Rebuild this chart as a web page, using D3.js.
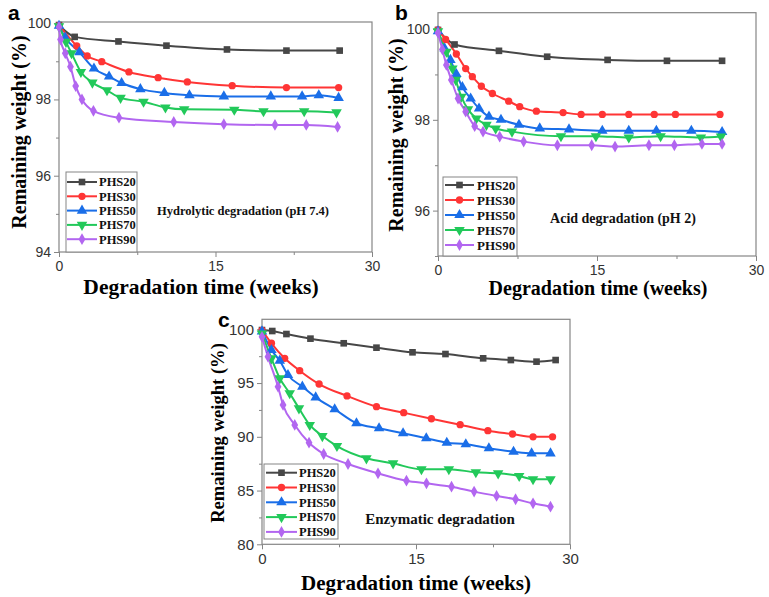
<!DOCTYPE html>
<html><head><meta charset="utf-8">
<script src="https://cdn.jsdelivr.net/npm/d3@7/dist/d3.min.js"></script>
<style>body{margin:0;background:#fff}svg{display:block}</style>
</head><body>
<svg id="chart" width="769" height="597"></svg>
<script>
// ---------- DATA ----------
const seriesNames = ["PHS20", "PHS30", "PHS50", "PHS70", "PHS90"];
const seriesColors = ["#474747", "#ff3535", "#1a6ee8", "#22c95a", "#b266f0"];
const xTicks = [0, 15, 30];
const xMinorTicks = [7.5, 22.5];

// Panel a: Hydrolytic degradation (pH 7.4)
const hydro_PHS20 = [[0,99.95],[1.5,99.64],[5.7,99.52],[10.3,99.41],[16.1,99.31],[21.8,99.28],[26.9,99.28]];
const hydro_PHS30 = [[0,99.94],[1.7,99.40],[2.7,99.14],[4.1,98.99],[6.7,98.72],[9.5,98.57],[12.3,98.46],[16.6,98.36],[21.8,98.31],[26.8,98.31]];
const hydro_PHS50 = [[0,99.93],[0.6,99.62],[1.95,99.24],[3.35,98.81],[4.8,98.60],[6.0,98.43],[7.8,98.27],[10.1,98.17],[12.5,98.11],[15.8,98.08],[20.3,98.08],[23.3,98.08],[24.9,98.11],[26.8,98.04]];
const hydro_PHS70 = [[0,99.92],[0.67,99.51],[1.2,99.21],[2.1,98.72],[3.2,98.44],[4.6,98.24],[5.9,98.04],[8.1,97.94],[10.2,97.79],[12.0,97.74],[16.8,97.73],[19.6,97.69],[23.5,97.69],[26.6,97.66]];
const hydro_PHS90 = [[0,99.9],[0.15,99.57],[0.6,99.21],[1.1,98.86],[1.6,98.35],[2.2,98.0],[3.3,97.70],[5.75,97.52],[11.0,97.41],[15.8,97.35],[20.7,97.33],[23.7,97.33],[26.7,97.28]];
const hydroYTicks = [94, 96, 98, 100];
const hydroYMinor = [95, 97, 99];

// Panel b: Acid degradation (pH 2)
const acid_PHS20 = [[0,99.98],[1.56,99.66],[5.75,99.52],[10.3,99.39],[16.0,99.32],[21.6,99.30],[26.8,99.30]];
const acid_PHS30 = [[0,99.98],[0.72,99.77],[1.73,99.45],[2.61,99.13],[3.24,98.95],[4.09,98.74],[5.13,98.58],[6.67,98.41],[7.71,98.29],[9.28,98.19],[11.8,98.16],[13.5,98.12],[15.5,98.12],[18.0,98.12],[20.4,98.12],[22.4,98.12],[26.6,98.12]];
const acid_PHS50 = [[0,99.95],[0.63,99.57],[1.17,99.32],[1.73,99.01],[2.3,98.72],[3.08,98.47],[3.87,98.25],[4.81,98.07],[5.94,98.0],[7.64,97.89],[9.6,97.81],[12.36,97.79],[15.5,97.76],[18.0,97.76],[20.6,97.76],[23.9,97.76],[26.8,97.73]];
const acid_PHS70 = [[0,99.95],[0.8,99.5],[1.36,99.13],[1.67,98.88],[2.2,98.51],[2.83,98.23],[3.62,98.03],[4.57,97.89],[5.44,97.81],[6.98,97.74],[11.6,97.64],[14.9,97.64],[18.0,97.61],[21.0,97.64],[24.8,97.61],[26.7,97.63]];
const acid_PHS90 = [[0,99.92],[0.41,99.55],[0.79,99.21],[1.26,98.88],[1.89,98.47],[2.61,98.18],[3.46,97.86],[4.25,97.74],[5.82,97.63],[8.08,97.52],[11.26,97.44],[14.5,97.44],[16.7,97.41],[19.9,97.44],[22.3,97.44],[24.9,97.47],[26.8,97.47]];
const acidYTicks = [96, 98, 100];
const acidYMinor = [95, 97, 99];

// Panel c: Enzymatic degradation
const enz_PHS20 = [[0,99.93],[1.0,99.84],[2.38,99.56],[4.72,99.13],[7.96,98.7],[11.15,98.29],[14.66,97.86],[17.87,97.7],[21.54,97.3],[24.24,97.14],[26.74,96.99],[28.6,97.14]];
const enz_PHS30 = [[0,99.9],[0.92,98.7],[2.21,97.3],[3.67,96.15],[5.56,94.91],[8.28,93.8],[11.15,92.8],[13.8,92.24],[16.5,91.68],[19.3,91.13],[22.0,90.57],[24.4,90.26],[26.4,90.0],[28.3,90.0]];
const enz_PHS50 = [[0,99.8],[0.92,98.07],[1.73,97.08],[2.53,95.75],[3.93,94.66],[5.23,93.67],[7.08,92.56],[9.2,91.26],[11.4,90.79],[13.74,90.33],[16.0,89.86],[18.0,89.45],[19.85,89.3],[22.1,88.93],[24.5,88.61],[26.26,88.46],[28.1,88.46]];
const enz_PHS70 = [[0,99.6],[0.92,97.3],[1.73,95.44],[2.7,94.05],[3.6,92.65],[4.65,91.1],[5.88,90.07],[7.3,89.14],[10.17,88.0],[12.77,87.53],[15.53,86.98],[18.2,86.98],[20.83,86.7],[23.0,86.6],[25.05,86.35],[26.4,86.05],[28.1,86.05]];
const enz_PHS90 = [[0,99.3],[0.58,97.45],[1.56,94.66],[2.05,92.96],[3.19,91.1],[4.58,89.45],[6.01,88.4],[8.38,87.47],[11.3,86.6],[14.07,85.92],[16.02,85.67],[18.46,85.36],[20.66,84.9],[22.85,84.5],[24.7,84.19],[26.4,83.81],[28.1,83.5]];
const enzYTicks = [80, 85, 90, 95, 100];
const enzYMinor = [82.5, 87.5, 92.5, 97.5];

const titleX = "Degradation time (weeks)";
const titleY = "Remaining weight (%)";

// ---------- DRAW ----------
const svg = d3.select("#chart");
const SERIF = "'Liberation Serif','Times New Roman',serif";
const SANS = "'Liberation Sans',Arial,sans-serif";
const symbols = [d3.symbolSquare, d3.symbolCircle, d3.symbolTriangle, d3.symbolTriangle, d3.symbolDiamond];
const symSizes = [44, 42, 48, 48, 40];
const symRot = [0, 0, 0, 180, 0];
const fmt = d3.format("d");

function drawPanel(p) {
  const g = svg.append("g");
  const x = d3.scaleLinear().domain([0, 30]).range(p.xr);
  const y = d3.scaleLinear().domain(p.yd).range(p.yr);

  // frame
  g.append("rect").attr("x", p.xr[0]).attr("y", p.yr[1])
    .attr("width", p.xr[1] - p.xr[0]).attr("height", p.yr[0] - p.yr[1])
    .attr("fill", "none").attr("stroke", "#858585").attr("stroke-width", 1.2);

  // axes
  const xAxis = d3.axisBottom(x).tickValues(xTicks).tickFormat(fmt).tickSize(5).tickPadding(4);
  const xa = g.append("g").attr("transform", `translate(0,${p.yr[0]})`).call(xAxis);
  const yAxis = d3.axisLeft(y).tickValues(p.yTicks).tickFormat(fmt).tickSize(5).tickPadding(3);
  const ya = g.append("g").attr("transform", `translate(${p.xr[0]},0)`).call(yAxis);
  [xa, ya].forEach(a => {
    a.select(".domain").remove();
    a.selectAll("line").attr("stroke", "#858585");
    a.selectAll("text").attr("font-family", SANS).attr("font-size", p.tickFs).attr("fill", "#333");
  });
  g.append("g").attr("transform", `translate(0,${p.yr[0]})`)
    .call(d3.axisBottom(x).tickValues(xMinorTicks).tickSize(3).tickFormat(""))
    .call(a => { a.select(".domain").remove(); a.selectAll("line").attr("stroke", "#858585"); });
  g.append("g").attr("transform", `translate(${p.xr[0]},0)`)
    .call(d3.axisLeft(y).tickValues(p.yMinor).tickSize(3).tickFormat(""))
    .call(a => { a.select(".domain").remove(); a.selectAll("line").attr("stroke", "#858585"); });

  // lines
  const line = d3.line().x(d => x(d[0])).y(d => y(d[1])).curve(d3.curveMonotoneX);
  p.series.forEach((s, i) => {
    g.append("path").datum(s).attr("d", line).attr("fill", "none")
      .attr("stroke", seriesColors[i]).attr("stroke-width", 2);
  });
  p.series.forEach((s, i) => {
    const sym = d3.symbol().type(symbols[i]).size(symSizes[i]);
    g.selectAll(null).data(s).enter().append("path")
      .attr("d", sym)
      .attr("transform", d => `translate(${x(d[0])},${y(d[1])}) rotate(${symRot[i]})`)
      .attr("fill", seriesColors[i]);
  });

  // legend
  const L = p.legend;
  g.append("rect").attr("x", L.x).attr("y", L.y).attr("width", L.w).attr("height", L.h)
    .attr("fill", "#fff").attr("stroke", "#858585").attr("stroke-width", 1);
  seriesNames.forEach((n, i) => {
    const yy = L.y0 + i * L.dy;
    g.append("line").attr("x1", L.lx0).attr("x2", L.lx1).attr("y1", yy).attr("y2", yy)
      .attr("stroke", seriesColors[i]).attr("stroke-width", 2);
    g.append("path").attr("d", d3.symbol().type(symbols[i]).size(symSizes[i]))
      .attr("transform", `translate(${(L.lx0 + L.lx1) / 2},${yy}) rotate(${symRot[i]})`)
      .attr("fill", seriesColors[i]);
    g.append("text").attr("x", L.tx).attr("y", yy + L.fs * 0.35).text(n)
      .attr("font-family", SERIF).attr("font-weight", "bold").attr("font-size", L.fs).attr("fill", "#111");
  });

  // annotation
  g.append("text").attr("x", p.ann.x).attr("y", p.ann.y).attr("text-anchor", "middle")
    .text(p.ann.text).attr("font-family", SERIF).attr("font-weight", "bold")
    .attr("font-size", p.ann.fs).attr("fill", "#111");

  // titles
  g.append("text").attr("x", p.xt.x).attr("y", p.xt.y).attr("text-anchor", "middle")
    .text(titleX).attr("font-family", SERIF).attr("font-weight", "bold")
    .attr("font-size", p.xt.fs).attr("fill", "#000");
  g.append("text").attr("transform", `translate(${p.yt.x},${p.yt.y}) rotate(-90)`)
    .attr("text-anchor", "middle").attr("dy", "0.35em")
    .text(titleY).attr("font-family", SERIF).attr("font-weight", "bold")
    .attr("font-size", p.yt.fs).attr("fill", "#000");

  // panel letter
  g.append("text").attr("x", p.letter.x).attr("y", p.letter.y).text(p.letter.t)
    .attr("font-family", SANS).attr("font-weight", "bold").attr("font-size", 21).attr("fill", "#000");
}

drawPanel({
  xr: [59, 372], yr: [252, 22], yd: [94, 100.03], yTicks: hydroYTicks, yMinor: hydroYMinor, tickFs: 14,
  series: [hydro_PHS20, hydro_PHS30, hydro_PHS50, hydro_PHS70, hydro_PHS90],
  legend: { x: 66, y: 172, w: 71, h: 80, y0: 182, dy: 14.3, lx0: 67, lx1: 97, tx: 99, fs: 12.5 },
  ann: { x: 243, y: 215, text: "Hydrolytic degradation (pH 7.4)", fs: 12.5 },
  xt: { x: 201, y: 294, fs: 21.5 }, yt: { x: 19, y: 132, fs: 20 },
  letter: { x: 8, y: 20, t: "a" }
});
drawPanel({
  xr: [438, 756], yr: [256, 12.7], yd: [95, 100.36], yTicks: acidYTicks, yMinor: acidYMinor, tickFs: 14,
  series: [acid_PHS20, acid_PHS30, acid_PHS50, acid_PHS70, acid_PHS90],
  legend: { x: 443, y: 177, w: 74, h: 79, y0: 185, dy: 15, lx0: 445, lx1: 474, tx: 477, fs: 13 },
  ann: { x: 623, y: 223, text: "Acid degradation (pH 2)", fs: 14 },
  xt: { x: 598, y: 295, fs: 20 }, yt: { x: 396, y: 135, fs: 20 },
  letter: { x: 395, y: 20, t: "b" }
});
drawPanel({
  xr: [262, 570], yr: [544.3, 319.3], yd: [80, 100.93], yTicks: enzYTicks, yMinor: enzYMinor, tickFs: 15,
  series: [enz_PHS20, enz_PHS30, enz_PHS50, enz_PHS70, enz_PHS90],
  legend: { x: 264, y: 464, w: 74, h: 75, y0: 472.7, dy: 14.8, lx0: 266, lx1: 297, tx: 299, fs: 12.5 },
  ann: { x: 440, y: 524, text: "Enzymatic degradation", fs: 15 },
  xt: { x: 416, y: 590, fs: 21 }, yt: { x: 217, y: 433, fs: 18.6 },
  letter: { x: 218, y: 327, t: "c" }
});
</script>
</body></html>
